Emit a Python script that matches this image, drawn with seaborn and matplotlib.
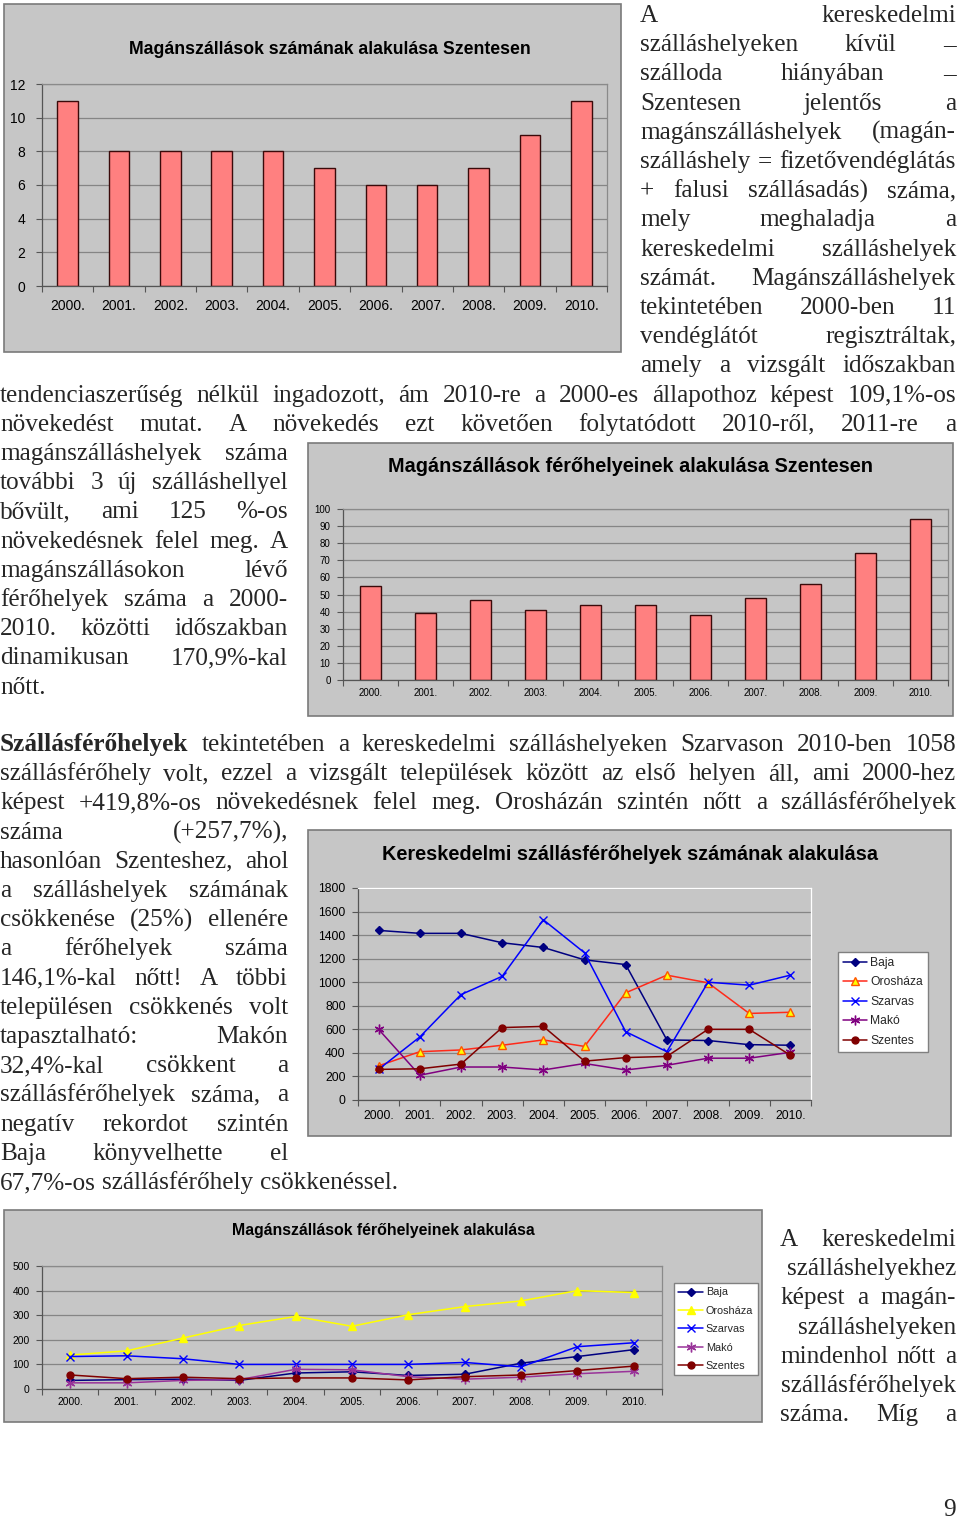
import numpy as np
import seaborn as sns
import matplotlib.pyplot as plt
from matplotlib.patches import Rectangle

# ---- chart data ----
years = ['2000.', '2001.', '2002.', '2003.', '2004.', '2005.',
         '2006.', '2007.', '2008.', '2009.', '2010.']

# Magánszállások száma, Szentes
szentes_szallasok = [11, 8, 8, 8, 8, 7, 6, 6, 7, 9, 11]
# Magánszállások férőhelyei, Szentes
szentes_ferohelyek = [55, 39, 47, 41, 44, 44, 38, 48, 56, 74, 94]

# Kereskedelmi szállásférőhelyek
ker_baja = [1440, 1415, 1415, 1335, 1295, 1190, 1150, 510, 505, 470, 465]
ker_oroshaza = [290, 410, 425, 465, 510, 455, 910, 1060, 995, 735, 745]
ker_szarvas = [260, 535, 895, 1050, 1530, 1250, 580, 410, 1000, 975, 1060]
ker_mako = [600, 210, 280, 280, 255, 310, 255, 295, 355, 355, 405]
ker_szentes = [260, 265, 305, 615, 625, 330, 360, 370, 600, 600, 380]

# Magánszállások férőhelyei
mag_baja = [35, 38, 40, 35, 65, 70, 55, 60, 105, 132, 160]
mag_oroshaza = [138, 155, 207, 258, 295, 255, 302, 335, 358, 400, 392]
mag_szarvas = [132, 135, 123, 100, 100, 100, 100, 108, 90, 172, 188]
mag_mako = [25, 25, 35, 38, 80, 78, 50, 40, 48, 62, 72]
mag_szentes = [57, 42, 48, 42, 45, 45, 37, 50, 57, 75, 93]

# ---- page text ----
block1 = ["A kereskedelmi", "szálláshelyeken kívül –", "szálloda hiányában –",
          "Szentesen jelentős a", "magánszálláshelyek (magán-",
          "szálláshely = fizetővendéglátás", "+ falusi szállásadás) száma,",
          "mely meghaladja a", "kereskedelmi szálláshelyek",
          "számát. Magánszálláshelyek", "tekintetében 2000-ben 11",
          "vendéglátót regisztráltak,", "amely a vizsgált időszakban"]
full1 = ["tendenciaszerűség nélkül ingadozott, ám 2010-re a 2000-es állapothoz képest 109,1%-os",
         "növekedést mutat. A növekedés ezt követően folytatódott 2010-ről, 2011-re a"]
left1 = ["magánszálláshelyek száma", "további 3 új szálláshellyel",
         "bővült, ami 125 %-os", "növekedésnek felel meg. A",
         "magánszállásokon lévő", "férőhelyek száma a 2000-",
         "2010. közötti időszakban", "dinamikusan 170,9%-kal", "nőtt."]
full2 = ["Szállásférőhelyek tekintetében a kereskedelmi szálláshelyeken Szarvason 2010-ben 1058",
         "szállásférőhely volt, ezzel a vizsgált települések között az első helyen áll, ami 2000-hez",
         "képest +419,8%-os növekedésnek felel meg. Orosházán szintén nőtt a szállásférőhelyek"]
left2 = ["száma (+257,7%),", "hasonlóan Szenteshez, ahol", "a szálláshelyek számának",
         "csökkenése (25%) ellenére", "a férőhelyek száma", "146,1%-kal nőtt! A többi",
         "településen csökkenés volt", "tapasztalható: Makón", "32,4%-kal csökkent a",
         "szállásférőhelyek száma, a", "negatív rekordot szintén", "Baja könyvelhette el",
         "67,7%-os szállásférőhely csökkenéssel."]
block3 = ["A kereskedelmi", "szálláshelyekhez", "képest a magán-", "szálláshelyeken",
          "mindenhol nőtt a", "szállásférőhelyek", "száma. Míg a"]

W, H = 960, 1519
GRAY = '#C6C6C6'
SANS = 'Liberation Sans'
SERIF = 'Liberation Serif'
PITCH = 29.2

sns.set_theme(style='white')
plt.rcParams['font.family'] = [SANS, 'DejaVu Sans']

fig = plt.figure(figsize=(W / 100, H / 100), dpi=100)
fig.patch.set_facecolor('white')
page = fig.add_axes([0, 0, 1, 1])
page.set_xlim(0, W)
page.set_ylim(H, 0)
page.axis('off')
renderer = fig.canvas.get_renderer()


def width_of(t):
    return t.get_window_extent(renderer).width


# body font size fitted to a left aligned line
probe = page.text(0, 0, "67,7%-os szállásférőhely csökkenéssel.", fontsize=16, family=SERIF)
BODY = 16 * 397 / width_of(probe)
probe.remove()
SPACE = 0.25 * BODY * 100 / 72


def text_line(s, x0, x1, y, justify=True, align='left', bold_words=0):
    words = s.split(' ')
    arts = [page.text(0, y, w, fontsize=BODY, family=SERIF, va='baseline', ha='left',
                      fontweight='bold' if i < bold_words else 'normal')
            for i, w in enumerate(words)]
    widths = [width_of(a) for a in arts]
    if justify and len(words) > 1:
        gap = (x1 - x0 - sum(widths)) / (len(words) - 1)
    else:
        gap = SPACE
    x = x0
    if align == 'right':
        x = x1 - sum(widths) - gap * (len(words) - 1)
    for a, w in zip(arts, widths):
        a.set_x(x)
        x += w + gap


TOP = 22
for i, s in enumerate(block1):
    text_line(s, 640, 956, TOP + i * PITCH)
for i, s in enumerate(full1):
    text_line(s, 0, 956, TOP + (13 + i) * PITCH)
for i, s in enumerate(left1):
    text_line(s, 0, 288, TOP + (15 + i) * PITCH, justify=(i < len(left1) - 1))

for i, s in enumerate(full2):
    text_line(s, 0, 956, 751 + i * PITCH, bold_words=1 if i == 0 else 0)
for i, s in enumerate(left2):
    text_line(s, 0, 288, 751 + (3 + i) * PITCH, justify=(i < len(left2) - 1))

for i, s in enumerate(block3):
    single = len(s.split(' ')) == 1
    text_line(s, 780, 956, 1246 + i * PITCH, align='right' if single else 'left')

page.text(956, 1516, "9", fontsize=BODY, family=SERIF, ha='right', va='baseline')


# ---- chart helpers ----
def chart_box(x0, y0, x1, y1):
    page.add_patch(Rectangle((x0, y0), x1 - x0, y1 - y0, facecolor=GRAY,
                             edgecolor='#7A7A7A', lw=1.2))


def chart_title(s, cx, cy, target_w):
    t = page.text(cx, cy, s, ha='center', va='center', fontsize=12,
                  fontweight='bold', family=SANS, color='black')
    t.set_fontsize(12 * target_w / width_of(t))


def plot_area(x0, y0, x1, y1):
    return fig.add_axes([x0 / W, 1 - y1 / H, (x1 - x0) / W, (y1 - y0) / H])


def style_axes(ax, ymax, ystep, fs, xpad, ypad, edge='#8A8A8A'):
    ax.set_facecolor(GRAY)
    ax.set_xlim(-0.5, 10.5)
    ax.set_ylim(0, ymax)
    ax.set_yticks(np.arange(0, ymax + 1, ystep))
    ax.set_xticks(np.arange(-0.5, 11, 1), minor=True)
    ax.grid(axis='y', color='#858585', lw=0.9)
    ax.grid(axis='x', visible=False, which='both')
    ax.set_axisbelow(True)
    ax.tick_params(axis='x', which='major', length=0, labelsize=fs, pad=xpad, labelcolor='black')
    ax.tick_params(axis='x', which='minor', bottom=True, length=4, width=0.8,
                   color='#555555', direction='out')
    ax.tick_params(axis='y', left=True, length=4, width=0.8, color='#555555',
                   direction='out', labelsize=fs, pad=ypad, labelcolor='black')
    ax.set_xlabel('')
    ax.set_ylabel('')
    for s in ['left', 'bottom']:
        ax.spines[s].set_color('#555555')
        ax.spines[s].set_linewidth(0.9)
    for s in ['top', 'right']:
        ax.spines[s].set_color(edge)
        ax.spines[s].set_linewidth(0.9)


def line_chart(ax, series):
    for name, vals, color, marker, ms, mfc, mec in series:
        sns.lineplot(x=years, y=vals, ax=ax, color=color, linewidth=1.1, label=name,
                     marker=marker, markersize=ms, markerfacecolor=mfc,
                     markeredgecolor=mec, markeredgewidth=1.0)


# ---- chart 1 ----
chart_box(4, 4, 621, 352)
chart_title("Magánszállások számának alakulása Szentesen", 330, 49, 396)
ax1 = plot_area(42, 84, 607, 286)
sns.barplot(x=years, y=szentes_szallasok, ax=ax1, color='#FF8080', saturation=1,
            edgecolor='#3A0A0A', linewidth=1.0, width=0.4)
style_axes(ax1, 12, 2, 10, 9, 8)

# ---- chart 2 ----
chart_box(308, 443, 953, 716)
chart_title("Magánszállások férőhelyeinek alakulása Szentesen", 631, 467, 481)
ax2 = plot_area(343, 509, 948, 680)
sns.barplot(x=years, y=szentes_ferohelyek, ax=ax2, color='#FF8080', saturation=1,
            edgecolor='#3A0A0A', linewidth=1.0, width=0.38)
style_axes(ax2, 100, 10, 7, 6, 5)

# ---- chart 3 ----
chart_box(308, 830, 951, 1136)
chart_title("Kereskedelmi szállásférőhelyek számának alakulása", 630, 855, 492)
ax3 = plot_area(358, 888, 811, 1100)
line_chart(ax3, [
    ('Baja', ker_baja, '#000080', 'D', 4.2, '#000080', '#000080'),
    ('Orosháza', ker_oroshaza, '#FF2A1A', '^', 5.5, '#FFFF00', '#FF5500'),
    ('Szarvas', ker_szarvas, '#0000FF', 'x', 6, '#0000FF', '#0000FF'),
    ('Makó', ker_mako, '#800080', (6, 2, 0), 7, '#800080', '#800080'),
    ('Szentes', ker_szentes, '#800000', 'o', 5, '#800000', '#800000'),
])
style_axes(ax3, 1800, 200, 8.7, 7, 5, edge='white')
ax3.legend(loc='upper left', bbox_to_anchor=(838, 952), bbox_transform=page.transData,
           fancybox=False, edgecolor='#808080', facecolor='white', framealpha=1,
           fontsize=8.7, handlelength=2.0, handletextpad=0.25, labelspacing=0.62,
           borderpad=0.4, borderaxespad=0)

# ---- chart 4 ----
chart_box(4, 1210, 762, 1422)
chart_title("Magánszállások férőhelyeinek alakulása", 383, 1230, 302)
ax4 = plot_area(42, 1266, 662, 1389)
line_chart(ax4, [
    ('Baja', mag_baja, '#000080', 'D', 4.0, '#000080', '#000080'),
    ('Orosháza', mag_oroshaza, '#FFFF00', '^', 5.5, '#FFFF00', '#FFFF00'),
    ('Szarvas', mag_szarvas, '#0000FF', 'x', 6, '#0000FF', '#0000FF'),
    ('Makó', mag_mako, '#993399', (6, 2, 0), 7, '#993399', '#993399'),
    ('Szentes', mag_szentes, '#800000', 'o', 5, '#800000', '#800000'),
])
style_axes(ax4, 500, 100, 7.4, 6, 5)
ax4.legend(loc='upper left', bbox_to_anchor=(674, 1283), bbox_transform=page.transData,
           fancybox=False, edgecolor='#808080', facecolor='white', framealpha=1,
           fontsize=7.8, handlelength=2.3, handletextpad=0.25, labelspacing=0.78,
           borderpad=0.4, borderaxespad=0)

fig.savefig('out.png', dpi=100, facecolor='white')
